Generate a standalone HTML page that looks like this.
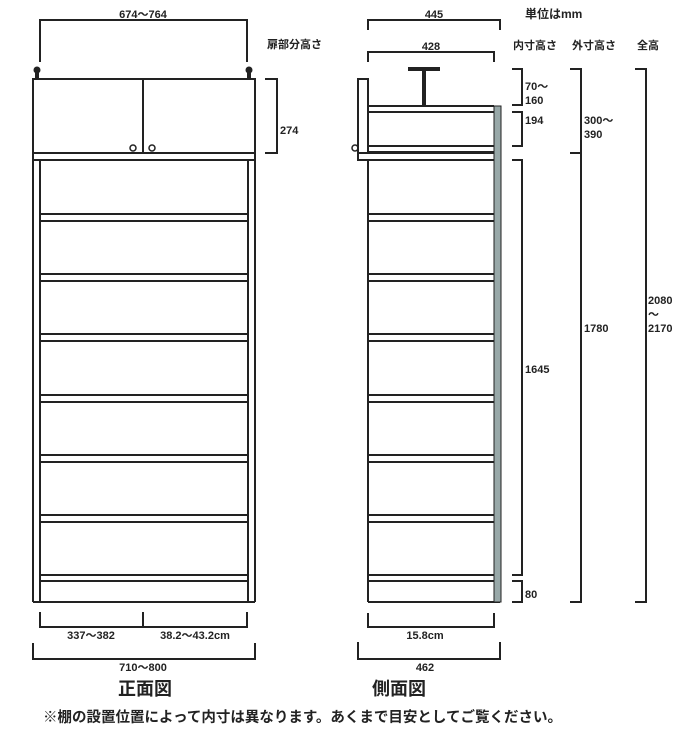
<!DOCTYPE html>
<html><head><meta charset="utf-8"><style>
html,body{margin:0;padding:0;background:#fff;width:700px;height:731px;overflow:hidden}
svg{display:block}
text{font-family:"Liberation Sans","Noto Sans CJK JP",sans-serif;fill:#222}
.b{font-weight:bold}
</style></head><body>
<svg width="700" height="731" viewBox="0 0 700 731" xmlns="http://www.w3.org/2000/svg">
<g fill="none" stroke="#222" stroke-width="2">
<rect x="33" y="79" width="222" height="74"/>
<line x1="143" y1="79" x2="143" y2="153"/>
<circle cx="133" cy="148" r="3" stroke-width="1.5"/>
<circle cx="152" cy="148" r="3" stroke-width="1.5"/>
<rect x="33" y="153" width="222" height="7"/>
<line x1="33" y1="160" x2="33" y2="602"/>
<line x1="40" y1="160" x2="40" y2="602"/>
<line x1="248" y1="160" x2="248" y2="602"/>
<line x1="255" y1="160" x2="255" y2="602"/>
<line x1="33" y1="602" x2="255" y2="602"/>
<g>
<line x1="40" y1="214" x2="248" y2="214"/><line x1="40" y1="221" x2="248" y2="221"/>
<line x1="40" y1="274" x2="248" y2="274"/><line x1="40" y1="281" x2="248" y2="281"/>
<line x1="40" y1="334" x2="248" y2="334"/><line x1="40" y1="341" x2="248" y2="341"/>
<line x1="40" y1="395" x2="248" y2="395"/><line x1="40" y1="402" x2="248" y2="402"/>
<line x1="40" y1="455" x2="248" y2="455"/><line x1="40" y1="462" x2="248" y2="462"/>
<line x1="40" y1="515" x2="248" y2="515"/><line x1="40" y1="522" x2="248" y2="522"/>
<line x1="40" y1="575" x2="248" y2="575"/><line x1="40" y1="581" x2="248" y2="581"/>
</g>
<polyline points="40,62 40,20 247,20 247,62"/>
<polyline points="265,79 277,79 277,153 265,153"/>
<polyline points="40,612 40,627 247,627 247,612"/>
<line x1="143" y1="612" x2="143" y2="627"/>
<polyline points="33,643 33,659 255,659 255,643"/>
<rect x="358" y="79" width="10" height="74"/>
<rect x="358" y="153" width="142" height="7"/>
<line x1="368" y1="106" x2="494" y2="106"/><line x1="368" y1="112" x2="494" y2="112"/>
<line x1="368" y1="146" x2="494" y2="146"/><line x1="368" y1="152" x2="494" y2="152"/>
<line x1="368" y1="160" x2="368" y2="602"/>
<line x1="368" y1="602" x2="500" y2="602"/>
<g>
<line x1="368" y1="214" x2="494" y2="214"/><line x1="368" y1="221" x2="494" y2="221"/>
<line x1="368" y1="274" x2="494" y2="274"/><line x1="368" y1="281" x2="494" y2="281"/>
<line x1="368" y1="334" x2="494" y2="334"/><line x1="368" y1="341" x2="494" y2="341"/>
<line x1="368" y1="395" x2="494" y2="395"/><line x1="368" y1="402" x2="494" y2="402"/>
<line x1="368" y1="455" x2="494" y2="455"/><line x1="368" y1="462" x2="494" y2="462"/>
<line x1="368" y1="515" x2="494" y2="515"/><line x1="368" y1="522" x2="494" y2="522"/>
<line x1="368" y1="575" x2="494" y2="575"/><line x1="368" y1="581" x2="494" y2="581"/>
</g>
<circle cx="355" cy="148" r="3" stroke-width="1.5"/>
<polyline points="368,30 368,20 500,20 500,30"/>
<polyline points="368,62 368,52 494,52 494,62"/>
<polyline points="368,613 368,627 494,627 494,613"/>
<polyline points="358,642 358,659 500,659 500,642"/>
<polyline points="512,69 522,69 522,105 512,105"/>
<polyline points="512,112 522,112 522,146 512,146"/>
<polyline points="512,160 522,160 522,575 512,575"/>
<polyline points="512,581 522,581 522,602 512,602"/>
<polyline points="570,69 581,69 581,602 570,602"/>
<line x1="570" y1="153" x2="581" y2="153"/>
<polyline points="635,69 646,69 646,602 635,602"/>
</g>
<rect x="494" y="106" width="7" height="496" fill="#98a8a8" stroke="#222" stroke-width="1"/>
<rect x="408" y="67" width="32" height="4" fill="#222"/>
<rect x="422" y="67" width="4" height="39" fill="#222"/>
<circle cx="37" cy="70" r="3.5" fill="#222"/><rect x="35" y="70" width="4" height="9" fill="#222"/>
<circle cx="249" cy="70" r="3.5" fill="#222"/><rect x="247" y="70" width="4" height="9" fill="#222"/>
<g font-size="11" class="b">
<text x="143" y="18" text-anchor="middle">674～764</text>
<text x="267" y="48">扉部分高さ</text>
<text x="280" y="134">274</text>
<text x="434" y="18" text-anchor="middle">445</text>
<text x="431" y="50" text-anchor="middle">428</text>
<text x="525" y="18" font-size="12">単位はmm</text>
<text x="513" y="49">内寸高さ</text>
<text x="572" y="49">外寸高さ</text>
<text x="637" y="49">全高</text>
<text x="525" y="90">70～</text>
<text x="525" y="104">160</text>
<text x="525" y="124">194</text>
<text x="584" y="124">300～</text>
<text x="584" y="138">390</text>
<text x="525" y="373">1645</text>
<text x="584" y="332">1780</text>
<text x="648" y="304">2080</text>
<text x="648" y="318">～</text>
<text x="648" y="332">2170</text>
<text x="525" y="598">80</text>
<text x="91" y="639" text-anchor="middle">337～382</text>
<text x="195" y="639" text-anchor="middle">38.2～43.2cm</text>
<text x="143" y="671" text-anchor="middle">710～800</text>
<text x="425" y="639" text-anchor="middle">15.8cm</text>
<text x="425" y="671" text-anchor="middle">462</text>
</g>
<text x="145" y="695" text-anchor="middle" font-size="18" class="b">正面図</text>
<text x="399" y="695" text-anchor="middle" font-size="18" class="b">側面図</text>
<text x="43" y="722" font-size="14.5" class="b">※棚の設置位置によって内寸は異なります。あくまで目安としてご覧ください。</text>
</svg>
</body></html>
